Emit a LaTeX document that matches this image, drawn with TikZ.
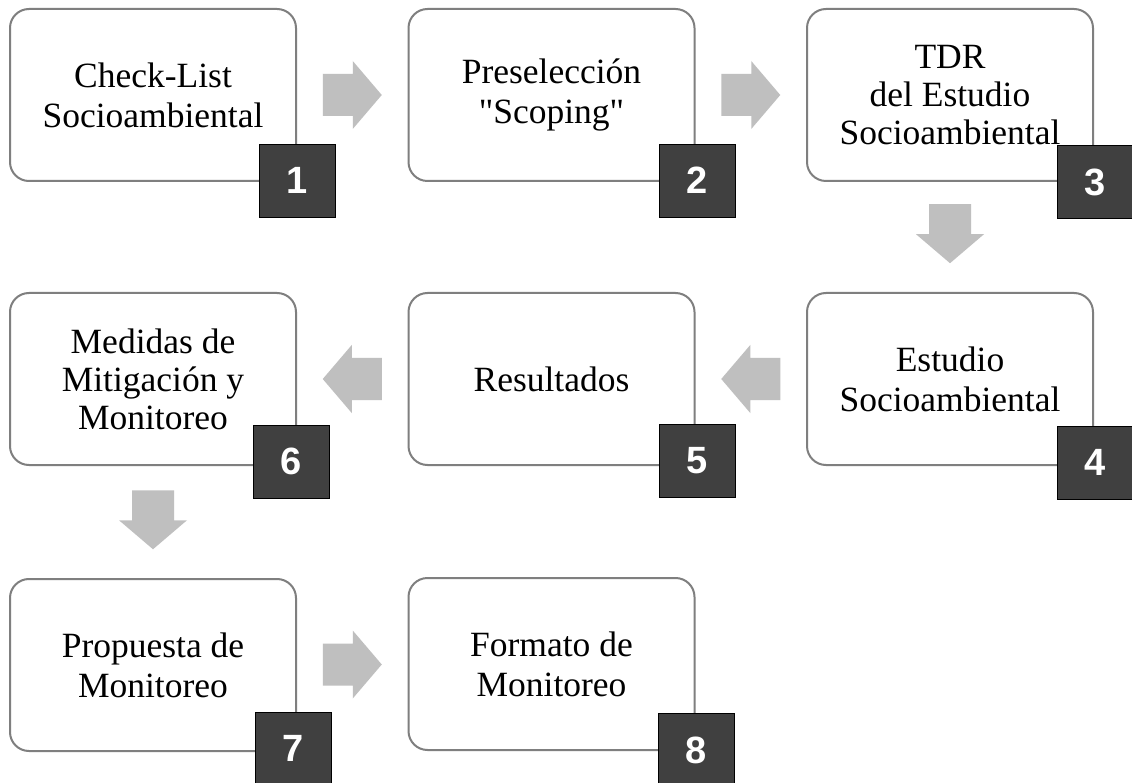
\documentclass[tikz,border=0pt]{standalone}
\usepackage{fontspec}
\setmainfont{Liberation Serif}
\newfontfamily\numfont{Liberation Sans}
\usetikzlibrary{calc}
\definecolor{boxgray}{HTML}{7F7F7F}
\definecolor{numfill}{HTML}{404040}
\definecolor{arrowgray}{HTML}{BFBFBF}
\tikzset{
  stepbox/.style={draw=boxgray, line width=2pt, rounded corners=19pt, fill=white,
    minimum width=286pt, minimum height=172pt, inner sep=0pt, align=center,
    font=\fontsize{35.5}{40}\selectfont},
  tightbox/.style={stepbox, font=\fontsize{35.5}{38}\selectfont},
  numbox/.style={draw=black, line width=0.8pt, fill=numfill, text=white,
    minimum width=76pt, minimum height=73pt, inner sep=0pt,
    font=\numfont\bfseries\fontsize{38}{40}\selectfont},
  blockarrow/.pic={\fill[arrowgray] (-29.5,-21) -- (0.5,-21) -- (0.5,-34) -- (29.5,0)
      -- (0.5,34) -- (0.5,21) -- (-29.5,21) -- cycle;}
}
\begin{document}
\begin{tikzpicture}[x=1pt,y=-1pt]
\useasboundingbox[fill=white] (0,0) rectangle (1132,783);
% boxes
\node[stepbox] (b1) at (153,95) {Check-List\\Socioambiental};
\node[stepbox] (b2) at (551.5,95) {Preselección\\\textquotedbl Scoping\textquotedbl};
\node[tightbox] (b3) at (950,95) {TDR\\del Estudio\\Socioambiental};
\node[stepbox] (b4) at (950,379) {Estudio\\Socioambiental};
\node[stepbox] (b5) at (551.5,379) {Resultados};
\node[tightbox] (b6) at (153,379) {Medidas de\\Mitigación y\\Monitoreo};
\node[stepbox] (b7) at (153,665) {Propuesta de\\Monitoreo};
\node[stepbox] (b8) at (551.5,664) {Formato de\\Monitoreo};
% number squares
\node[numbox] (n1) at (297,180.5) {1};
\node[numbox] (n2) at (697,180.5) {2};
\node[numbox] (n3) at (1095,182) {3};
\node[numbox] (n4) at (1095,462.5) {4};
\node[numbox] (n5) at (697,461) {5};
\node[numbox] (n6) at (291.5,461.5) {6};
\node[numbox] (n7) at (293.5,748.5) {7};
\node[numbox] (n8) at (696,750) {8};
% block arrows
\pic at ($(b1.east)!0.5!(b2.west)$) {blockarrow};
\pic at ($(b2.east)!0.5!(b3.west)$) {blockarrow};
\pic[rotate=-90] at ($(b3.south)!0.47!(b4.north)$) {blockarrow};
\pic[rotate=180] at ($(b4.west)!0.5!(b5.east)$) {blockarrow};
\pic[rotate=180] at ($(b5.west)!0.5!(b6.east)$) {blockarrow};
\pic[rotate=-90] at ($(b6.south)!0.48!(b7.north)$) {blockarrow};
\pic at ($(b7.east)!0.5!(b8.west)$) {blockarrow};
\end{tikzpicture}
\end{document}
